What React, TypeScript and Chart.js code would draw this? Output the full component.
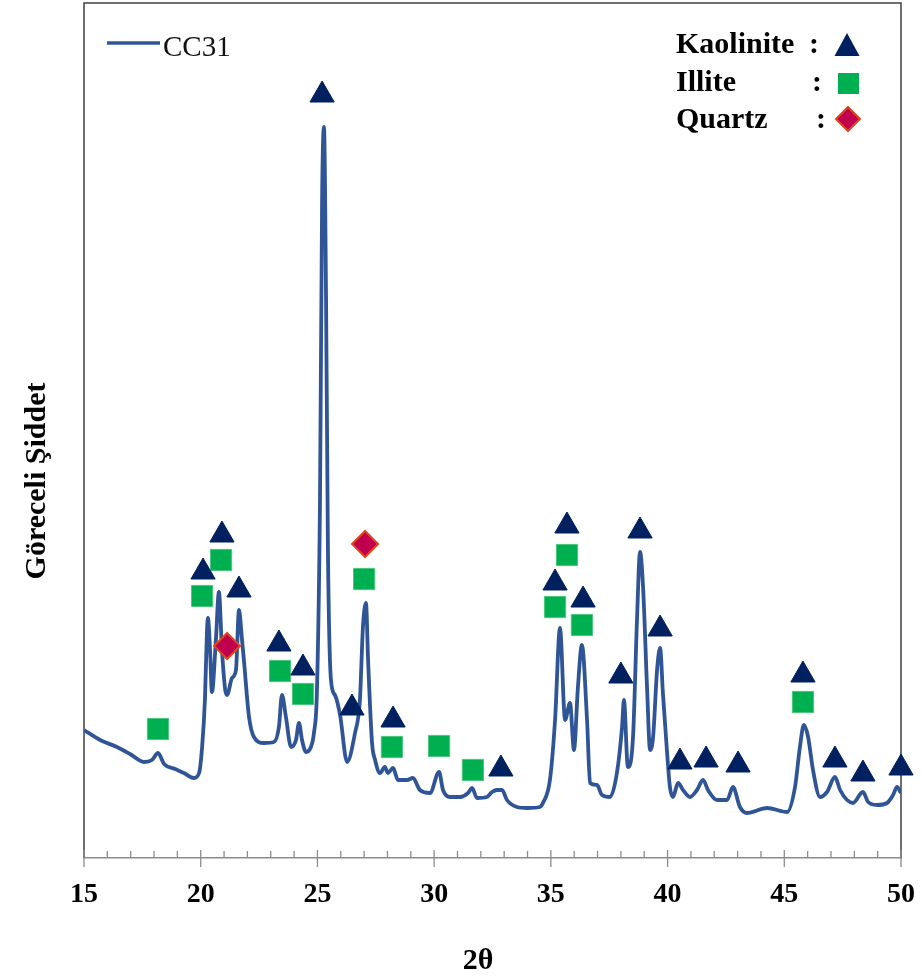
import React, { useEffect, useRef } from 'react';
import { Chart, registerables } from 'chart.js';

Chart.register(...registerables);

// ---- data (2θ in degrees, relative intensity in arbitrary units) ----
const twoTheta = [
  15.0, 15.69, 16.41, 16.97, 17.57, 17.91, 18.17, 18.43, 18.9, 19.28, 19.71, 19.93,
  20.06, 20.18, 20.27, 20.31, 20.4, 20.48, 20.65, 20.78, 20.91, 21.05, 21.13, 21.34,
  21.51, 21.64, 21.77, 21.85, 22.07, 22.28, 22.71, 23.14, 23.35, 23.48, 23.65, 23.87,
  24.08, 24.21, 24.34, 24.51, 24.72, 24.85, 24.98, 25.11, 25.2, 25.28, 25.37, 25.45,
  25.58, 25.75, 25.97, 26.27, 26.61, 26.82, 26.95, 27.08, 27.17, 27.34, 27.47, 27.68,
  27.89, 28.02, 28.24, 28.45, 28.84, 29.09, 29.39, 29.82, 30.21, 30.38, 30.68, 31.11,
  31.45, 31.62, 31.84, 32.26, 32.48, 32.69, 32.91, 33.12, 33.55, 33.98, 34.53, 34.66,
  34.96, 35.18, 35.39, 35.61, 35.82, 35.99, 36.16, 36.33, 36.55, 36.68, 36.98, 37.19,
  37.53, 37.83, 38.05, 38.13, 38.3, 38.52, 38.69, 38.82, 38.95, 39.12, 39.25, 39.38,
  39.55, 39.68, 39.8, 39.98, 40.1, 40.23, 40.45, 40.66, 40.96, 41.26, 41.52, 41.73,
  42.12, 42.55, 42.8, 43.1, 43.4, 44.26, 45.12, 45.46, 45.67, 45.84, 46.02, 46.23,
  46.53, 46.83, 47.17, 47.39, 47.69, 47.94, 48.37, 48.59, 48.97, 49.4, 49.66, 49.83,
  50.0,
];
const intensityCC31 = [
  128, 118, 111, 104, 96, 98, 105, 94, 89, 85, 80, 85,
  111, 158, 228, 240, 208, 166, 218, 266, 208, 168, 163, 180,
  188, 248, 218, 198, 141, 121, 115, 116, 131, 163, 141, 111,
  118, 135, 118, 106, 111, 125, 168, 358, 658, 731, 558, 308,
  178, 163, 143, 96, 125, 158, 231, 255, 198, 115, 98, 85,
  91, 85, 90, 78, 78, 80, 68, 65, 86, 68, 61, 61,
  65, 70, 60, 61, 66, 68, 68, 58, 51, 50, 51, 55,
  78, 138, 230, 138, 155, 108, 171, 213, 138, 75, 73, 63,
  61, 85, 131, 158, 91, 121, 238, 306, 271, 171, 108, 121,
  188, 210, 165, 105, 71, 61, 75, 68, 61, 68, 78, 68,
  58, 58, 71, 51, 45, 50, 46, 71, 111, 133, 121, 88,
  61, 66, 81, 68, 58, 55, 66, 56, 53, 55, 63, 71,
  65,
];

// phase identification marks (2θ, marker height)
const kaoliniteTheta = [20.1, 20.91, 21.64, 23.35, 24.38, 25.2, 26.48, 28.24, 32.86, 35.18, 35.69, 36.38, 38.0, 38.82, 39.68, 40.53, 41.65, 43.02, 45.8, 47.17, 48.37, 50.0];
const kaoliniteLevel = [286, 323, 268, 214, 190, 763, 150, 138, 89, 275, 332, 258, 182, 327, 229, 96, 98, 93, 183, 98, 84, 90];
const illiteTheta = [18.17, 20.06, 20.87, 23.4, 24.38, 27.0, 28.19, 30.21, 31.66, 35.18, 35.69, 36.33, 45.8];
const illiteLevel = [129, 262, 298, 187, 164, 279, 111, 112, 88, 251, 303, 233, 156];
const quartzTheta = [21.13, 27.04];
const quartzLevel = [212, 314];

const xTickValues = [15, 20, 25, 30, 35, 40, 45, 50];
const seriesName = 'CC31';
const xTitle = '2θ';
const yTitle = 'Göreceli Şiddet';
const phaseNames = ['Kaolinite', 'Illite', 'Quartz'];

const LINE = '#2f5597';
const NAVY = '#002060';
const GREEN = '#00b050';
const CRIMSON = '#c0004f';
const ORANGE = '#e0461a';
const SERIF = '"Liberation Serif", "Times New Roman", serif';

const pts = (xs: number[], ys: number[]) => xs.map((x, i) => ({ x, y: ys[i] }));

function drawTri(ctx: CanvasRenderingContext2D, cx: number, top: number, w: number, h: number) {
  ctx.beginPath();
  ctx.moveTo(cx, top);
  ctx.lineTo(cx - w / 2, top + h);
  ctx.lineTo(cx + w / 2, top + h);
  ctx.closePath();
  ctx.fill();
}

const decor = {
  id: 'decor',
  beforeDatasetsDraw(chart: any) {
    const { ctx, chartArea: a, scales } = chart;
    const x = scales.x;
    ctx.save();
    // frame (left, top, right)
    ctx.strokeStyle = '#404040';
    ctx.lineWidth = 1.5;
    ctx.beginPath();
    ctx.moveTo(a.left, a.bottom);
    ctx.lineTo(a.left, a.top);
    ctx.lineTo(a.right, a.top);
    ctx.lineTo(a.right, a.bottom);
    ctx.stroke();
    // x axis ticks (major cross the axis, minor inside)
    ctx.strokeStyle = '#8c8c8c';
    ctx.lineWidth = 1.3;
    for (let v = x.min; v <= x.max; v += 1) {
      const px = x.getPixelForValue(v);
      const major = xTickValues.includes(v);
      ctx.beginPath();
      ctx.moveTo(px, a.bottom - (major ? 8 : 7));
      ctx.lineTo(px, a.bottom + (major ? 9 : 0));
      ctx.stroke();
    }
    ctx.restore();
  },
  afterDraw(chart: any) {
    const { ctx } = chart;
    ctx.save();
    ctx.fillStyle = '#000';
    // axis titles
    ctx.font = `bold 30px ${SERIF}`;
    ctx.textAlign = 'center';
    ctx.textBaseline = 'middle';
    ctx.fillText(xTitle, 478, 961);
    ctx.save();
    ctx.translate(37, 481);
    ctx.rotate(-Math.PI / 2);
    ctx.font = `bold 30px ${SERIF}`;
    ctx.fillText(yTitle, 0, 0);
    ctx.restore();

    // series legend
    ctx.strokeStyle = LINE;
    ctx.lineWidth = 3.5;
    ctx.beginPath();
    ctx.moveTo(107, 43);
    ctx.lineTo(160, 43);
    ctx.stroke();
    ctx.font = `29px ${SERIF}`;
    ctx.textAlign = 'left';
    ctx.textBaseline = 'alphabetic';
    ctx.fillStyle = '#111';
    ctx.fillText(seriesName, 163, 56);

    // phase legend
    ctx.fillStyle = '#000';
    ctx.font = `bold 30px ${SERIF}`;
    const baselines = [53, 91, 128];
    const colonX = [809, 812, 816];
    phaseNames.forEach((n, i) => {
      ctx.fillText(n, 676, baselines[i]);
      ctx.fillText(':', colonX[i], baselines[i]);
    });
    ctx.fillStyle = NAVY;
    drawTri(ctx, 847, 33, 25, 23);
    ctx.fillStyle = GREEN;
    ctx.fillRect(838, 73, 21, 21);
    ctx.beginPath();
    ctx.moveTo(848, 107);
    ctx.lineTo(860, 119);
    ctx.lineTo(848, 131);
    ctx.lineTo(836, 119);
    ctx.closePath();
    ctx.fillStyle = CRIMSON;
    ctx.fill();
    ctx.strokeStyle = ORANGE;
    ctx.lineWidth = 2;
    ctx.stroke();
    ctx.restore();
  },
};

export default function App() {
  const ref = useRef<HTMLCanvasElement | null>(null);
  useEffect(() => {
    if (!ref.current) return;
    const chart = new Chart(ref.current, {
      type: 'line',
      data: {
        datasets: [
          {
            label: 'Kaolinite',
            data: pts(kaoliniteTheta, kaoliniteLevel),
            showLine: false,
            pointStyle: 'triangle',
            pointRadius: 14,
            pointBackgroundColor: NAVY,
            pointBorderColor: NAVY,
            pointBorderWidth: 1,
            clip: false,
            order: 0,
          },
          {
            label: 'Illite',
            data: pts(illiteTheta, illiteLevel),
            showLine: false,
            pointStyle: 'rect',
            pointRadius: 15,
            pointBackgroundColor: GREEN,
            pointBorderColor: '#4cc77f',
            pointBorderWidth: 1,
            clip: false,
            order: 0,
          },
          {
            label: 'Quartz',
            data: pts(quartzTheta, quartzLevel),
            showLine: false,
            pointStyle: 'rectRot',
            pointRadius: 13,
            pointBackgroundColor: CRIMSON,
            pointBorderColor: ORANGE,
            pointBorderWidth: 2,
            clip: false,
            order: 0,
          },
          {
            label: seriesName,
            data: pts(twoTheta, intensityCC31),
            borderColor: LINE,
            borderWidth: 3.8,
            pointRadius: 0,
            fill: false,
            cubicInterpolationMode: 'monotone',
            borderJoinStyle: 'round',
            order: 1,
          },
        ],
      },
      options: {
        animation: false,
        responsive: false,
        events: [],
        layout: { autoPadding: false, padding: { left: 84, right: 22, top: 3, bottom: 0 } },
        plugins: { legend: { display: false }, tooltip: { enabled: false } },
        scales: {
          x: {
            type: 'linear',
            min: 15,
            max: 50,
            afterFit: (s: any) => {
              s.height = 122;
              s.paddingLeft = 0;
              s.paddingRight = 0;
            },
            afterBuildTicks: (s: any) => {
              s.ticks = xTickValues.map((v) => ({ value: v }));
            },
            ticks: {
              font: { family: SERIF, size: 28, weight: 'bold' },
              color: '#000',
              padding: 20,
              maxRotation: 0,
              autoSkip: false,
            },
            grid: { display: true, drawOnChartArea: false, drawTicks: false },
            border: { display: true, color: '#8c8c8c', width: 1.5 },
          },
          y: {
            display: false,
            min: 0,
            max: 855,
          },
        },
      },
      plugins: [decor],
    } as any);
    return () => chart.destroy();
  }, []);
  return (
    <div style={{ position: 'absolute', left: 0, top: 0, width: 923, height: 980, background: '#fff' }}>
      <canvas ref={ref} width={923} height={980} style={{ display: 'block' }} />
    </div>
  );
}
